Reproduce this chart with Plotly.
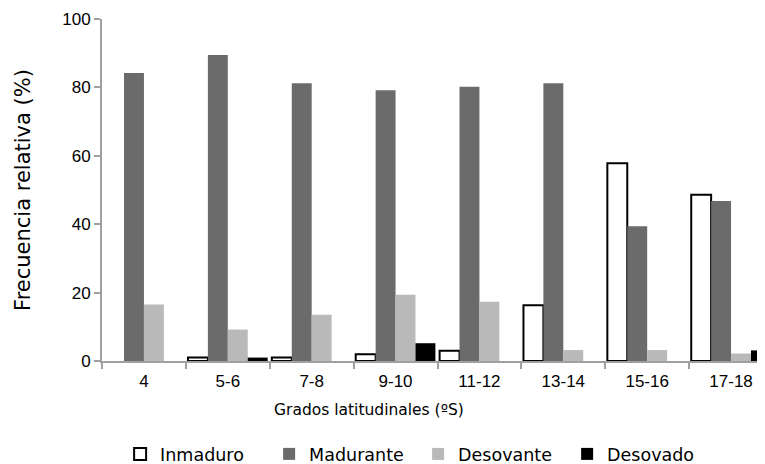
import plotly.graph_objects as go

categories = ["4", "5-6", "7-8", "9-10", "11-12", "13-14", "15-16", "17-18"]
inmaduro = [None, 1, 1, 2, 3, 16.3, 57.8, 48.6]
madurante = [84.2, 89.5, 81.2, 79.2, 80.2, 81.2, 39.4, 46.8]
desovante = [16.5, 9.2, 13.5, 19.4, 17.3, 3.2, 3.2, 2.2]
desovado = [0, 1, 0, 5.2, 0, 0, 0, 3.1]

y_ticks = [0, 20, 40, 60, 80, 100]
x_title = "Grados latitudinales (ºS)"
y_title = "Frecuencia relativa (%)"

fig = go.Figure()
fig.add_trace(go.Bar(name="Inmaduro", x=categories, y=inmaduro,
                     marker=dict(color="#ffffff", line=dict(color="#000000", width=2))))
fig.add_trace(go.Bar(name="Madurante", x=categories, y=madurante,
                     marker=dict(color="#6b6b6b", line=dict(width=0))))
fig.add_trace(go.Bar(name="Desovante", x=categories, y=desovante,
                     marker=dict(color="#b8b9b8", line=dict(width=0))))
fig.add_trace(go.Bar(name="Desovado", x=categories, y=desovado,
                     marker=dict(color="#000000", line=dict(width=0))))

fig.add_annotation(text=x_title, xref="paper", yref="paper", x=0.398, y=-0.143,
                   xanchor="center", yanchor="middle", showarrow=False,
                   font=dict(family="DejaVu Sans", size=15.5, color="#000000"))

fig.update_layout(
    width=765, height=464,
    margin=dict(l=94, r=0, t=11, b=111, autoexpand=False),
    paper_bgcolor="white", plot_bgcolor="white",
    barmode="group", bargap=0.05, bargroupgap=0,
    showlegend=True,
    legend=dict(orientation="h", x=0.027, xanchor="left", y=-0.272, yanchor="middle",
                font=dict(family="DejaVu Sans", size=17.5, color="#000000"),
                entrywidth=104, entrywidthmode="pixels", traceorder="normal",
                itemwidth=30, tracegroupgap=0),
    xaxis=dict(range=[-0.5, 7.5], showline=True, linecolor="#a0a0a0", linewidth=2,
               ticks="outside", tickson="boundaries", ticklen=6, tickcolor="#a0a0a0",
               tickwidth=2, showgrid=False, automargin=False, ticklabelstandoff=4,
               tickfont=dict(family="Liberation Sans", size=17, color="#000000")),
    yaxis=dict(range=[0, 100], tickvals=y_ticks, showline=True, linecolor="#a0a0a0",
               linewidth=2, ticks="outside", ticklen=6, tickcolor="#a0a0a0", tickwidth=2,
               showgrid=False, zeroline=False, automargin=False,
               tickfont=dict(family="Liberation Sans", size=17, color="#000000"),
               title=dict(text=y_title, standoff=26,
                          font=dict(family="DejaVu Sans", size=21, color="#000000"))),
)

fig.write_html("out.html")
